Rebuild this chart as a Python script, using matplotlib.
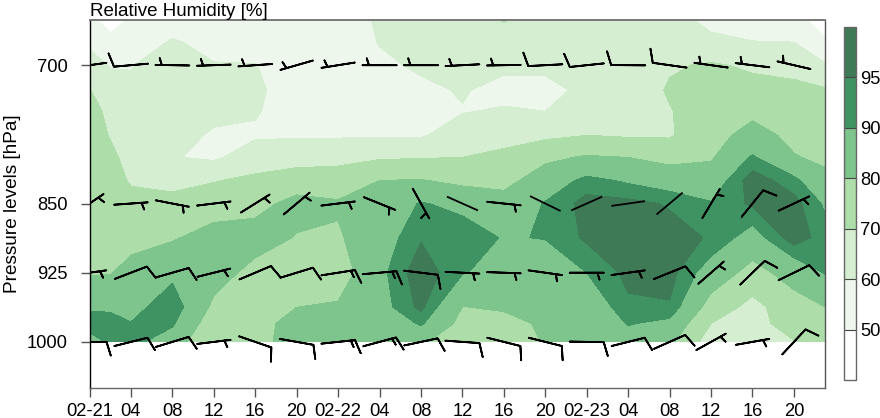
#!/usr/bin/env python3
"""Time-height section of relative humidity with wind barbs."""
import matplotlib
matplotlib.use("Agg")
import matplotlib.pyplot as plt
import numpy as np

W, H = 880, 418

plt.rcParams["font.family"] = ["Liberation Sans", "DejaVu Sans"]

# humidity grid, one list per time, top to bottom on pressure_rows
pressure_rows = [651, 675, 700, 727, 750, 776, 800, 825, 850, 887, 925, 962, 980, 1000]
rh_times = [0, 2, 4, 8, 12, 16, 20, 24, 28, 32, 36, 40, 44, 48, 52, 56, 60, 64, 68, 71]

rh_00 = [52, 58, 64, 70.5, 73, 74, 75, 75, 76, 78, 79, 89, 93, 87]
rh_02 = [47, 52, 59.5, 63, 68, 69.5, 72, 74, 75, 78, 79.5, 89, 92, 91]
rh_04 = [51, 54, 59.5, 62, 64, 66, 67, 69, 73, 77, 83, 87, 90.3, 92]
rh_08 = [55, 61, 65, 66, 65, 63, 60.5, 67, 73, 79, 88, 94.5, 91, 86]
rh_12 = [53, 57, 60.5, 63, 62, 59, 58.5, 69.5, 75, 84, 84, 78, 74, 69]
rh_16 = [53, 56, 60.3, 61.5, 60.7, 58.8, 65, 72, 77, 84, 77, 74, 77, 77]
rh_20 = [52, 53, 55, 56, 56, 59, 66, 75, 83, 79.5, 76, 79.9, 83, 84]
rh_24 = [52, 53, 55, 56, 57, 59, 67, 75, 81, 79, 75, 81, 83, 85]
rh_28 = [62, 60.5, 58, 56, 55, 59, 69, 80, 85, 86, 88, 87, 83, 81]
rh_32 = [62, 64, 61.5, 58, 56, 59, 69.5, 80.5, 90.5, 94.5, 98.5, 96.5, 91, 82]
rh_36 = [66, 65, 63, 60.8, 59.5, 65, 70, 77.5, 88, 93.5, 90.5, 79.9, 77, 71]
rh_40 = [70.5, 66, 62, 57, 61, 67, 72, 77, 84, 89.5, 87, 80.8, 78, 72]
rh_44 = [66, 64, 61.5, 58, 60, 68, 78, 85, 90.5, 90.3, 85, 82, 81, 81]
rh_48 = [66, 65, 63, 61.5, 65, 70, 81, 92, 97, 96, 90, 84, 83, 82]
rh_52 = [65, 65, 64, 64, 65, 69, 80, 89, 96.5, 97, 96.5, 94, 90.5, 86]
rh_56 = [64, 65, 69, 71, 69.5, 69, 77, 86, 94.5, 97, 97, 94.5, 88, 82]
rh_60 = [57, 62.5, 71, 73, 75, 77, 79, 85, 90.5, 94.5, 86, 76, 70, 65]
rh_64 = [55, 60.3, 68.5, 73, 78, 83, 91, 98, 96, 86.5, 76.5, 67, 66, 61]
rh_68 = [53, 60, 66, 73, 75, 78, 80.5, 92, 97, 98, 84, 76, 75, 69.5]
rh_71 = [46, 51, 61, 71, 74, 76, 78.5, 82, 89, 92.5, 90.5, 80, 75, 72]

rh_levels = [40, 50, 60, 70, 80, 90, 95, 100]
rh_colors = ["#FFFFFF", "#EEF7EC", "#D5EDD0", "#ADDDA9", "#7DC48D", "#3F9362", "#3F7A57"]
cbar_ticks = [50, 60, 70, 80, 90, 95]

# wind barbs every 4 h (speed 0 = bare stem, nothing on it)
wind_times = [0, 4, 8, 12, 16, 20, 24, 28, 32, 36, 40, 44, 48, 52, 56, 60, 64, 68]
spd_700 = [10, 10, 5, 5, 5, 5, 5, 5, 5, 5, 5, 10, 10, 10, 10, 5, 5, 5]
dir_700 = [262, 265, 271, 268, 266, 254, 261, 270, 270, 267, 269, 267, 264, 270.5, 278, 278, 277, 283]
spd_850 = [5, 5, 5, 5, 5, 5, 5, 5, 5, 0, 5, 0, 0, 0, 0, 5, 10, 5]
dir_850 = [56, 86, 101, 83, 58, 50, 83, 112, 151, 114, 96, 116, 66, 82, 50, 31, 39, 65]
spd_925 = [5, 10, 10, 5, 10, 10, 15, 15, 10, 5, 5, 5, 5, 5, 10, 5, 10, 10]
dir_925 = [82, 69, 74, 76, 67, 73, 81, 85, 97, 93, 92, 98, 90, 82, 68, 49, 46, 64]
spd_1000 = [10, 10, 10, 5, 10, 10, 15, 15, 10, 10, 10, 10, 10, 10, 10, 5, 5, 10]
dir_1000 = [90, 76, 73, 83, 109, 100, 84, 75, 78, 94, 104, 104, 91, 76, 66, 61, 80, 43]

wind_levels = [700, 850, 925, 1000]
time_ticks = wind_times
time_labels = ["02-21", "04", "08", "12", "16", "20", "02-22", "04", "08", "12", "16", "20",
               "02-23", "04", "08", "12", "16", "20"]


def px_axes(fig, left, top, right, bottom):
    return fig.add_axes([left / W, 1 - bottom / H, (right - left) / W, (bottom - top) / H])


def main():
    fig = plt.figure(figsize=(W / 100, H / 100), dpi=100)
    ax = px_axes(fig, 89.5, 20, 825, 388)

    rh = np.array([rh_00, rh_02, rh_04, rh_08, rh_12, rh_16, rh_20, rh_24, rh_28, rh_32,
                   rh_36, rh_40, rh_44, rh_48, rh_52, rh_56, rh_60, rh_64, rh_68, rh_71]).T
    cf = ax.contourf(rh_times, pressure_rows, rh, levels=rh_levels, colors=rh_colors)

    speeds = [spd_700, spd_850, spd_925, spd_1000]
    dirs = [dir_700, dir_850, dir_925, dir_1000]
    tt, pp = np.meshgrid(wind_times, wind_levels)
    spd = np.array(speeds, dtype=float)
    rad = np.deg2rad(np.array(dirs, dtype=float))
    u, v = -np.sin(rad), -np.cos(rad)
    fat = spd > 0
    ax.barbs(tt[fat], pp[fat], (spd * u)[fat], (spd * v)[fat], length=7, pivot="middle",
             linewidth=1.3, color="black", zorder=3)
    ax.quiver(tt[~fat], pp[~fat], u[~fat], v[~fat], angles="uv", scale_units="inches",
              scale=1 / 0.34, pivot="mid", units="inches", width=0.018, headwidth=1,
              headlength=0, headaxislength=0, color="black", zorder=3)

    ax.set_xlim(0, 71)
    ax.set_ylim(1050, 651)
    ax.set_xticks(time_ticks)
    ax.set_xticklabels(time_labels)
    ax.set_yticks(wind_levels)
    ax.tick_params(length=6.5, width=1.0, color="#555555", labelsize=13.2)
    ax.tick_params(axis="y", pad=9)
    ax.tick_params(axis="x", pad=4)
    ax.set_ylabel("Pressure levels [hPa]", fontsize=13.7)
    ax.yaxis.set_label_coords(-69 / 735.5, 0.5)
    ax.set_title("Relative Humidity [%]", loc="left", fontsize=13.5, pad=3)

    for side, col, lw in [("left", "black", 1.0), ("top", "#777777", 1.4),
                          ("right", "#555555", 1.0), ("bottom", "#666666", 1.0)]:
        ax.spines[side].set_color(col)
        ax.spines[side].set_linewidth(lw)

    cax = px_axes(fig, 844, 27, 856, 380)
    cbar = fig.colorbar(cf, cax=cax, spacing="uniform", ticks=cbar_ticks, drawedges=True)
    cbar.ax.tick_params(length=0, labelsize=13.2, pad=3)
    cbar.outline.set_edgecolor("#666666")
    cbar.outline.set_linewidth(1.0)
    cbar.dividers.set_color("#444444")
    cbar.dividers.set_linewidth(0.8)

    fig.savefig("out.png", dpi=100)
    plt.close(fig)


if __name__ == "__main__":
    main()
